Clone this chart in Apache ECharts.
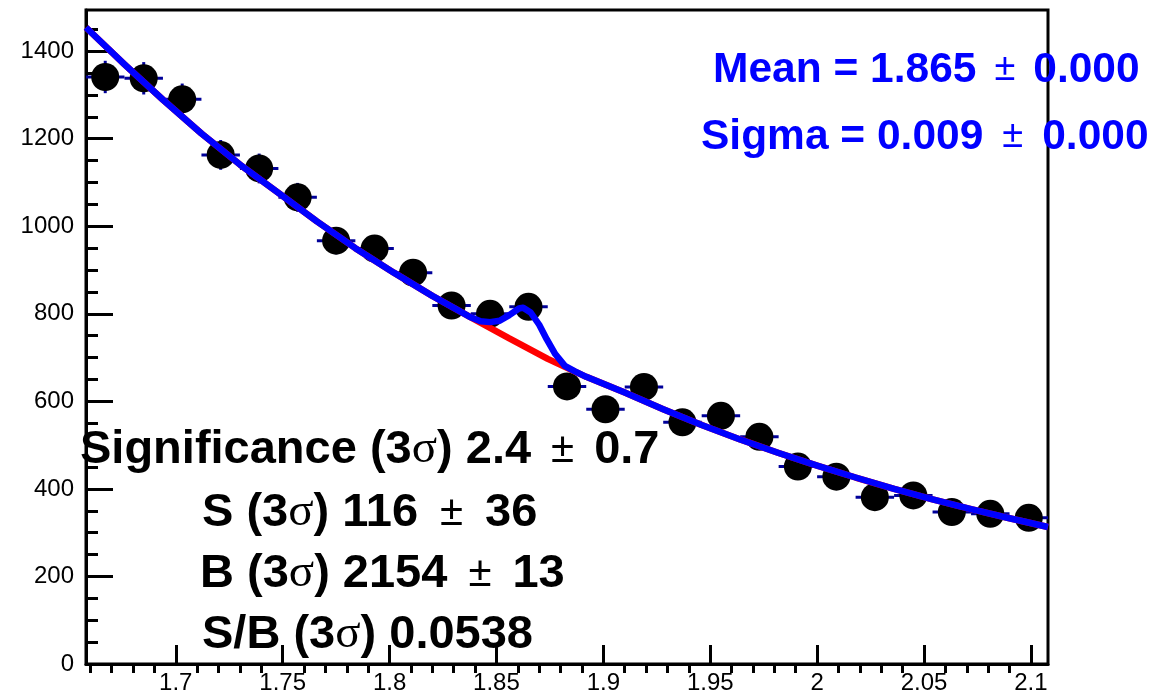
<!DOCTYPE html>
<html>
<head>
<meta charset="utf-8">
<script src="https://cdn.jsdelivr.net/npm/echarts@6/dist/echarts.min.js"></script>
<style>
html,body{margin:0;padding:0;background:#fff;}
#chart{width:1159px;height:695px;}
</style>
</head>
<body>
<div id="chart"></div>
<script>
// ---- data ----
const binCenters = [1.667,1.685,1.703,1.721,1.739,1.757,1.775,1.793,1.811,1.829,1.847,1.865,1.883,1.901,1.919,1.937,1.955,1.973,1.991,2.009,2.027,2.045,2.063,2.081,2.099];
const counts = [1341,1338,1290,1163,1132,1066,967,949,894,819,800,816,634,582,633,552,567,519,451,428,381,385,347,343,334];
const countErr = [37,37,36,34,34,33,31,31,30,29,28,29,25,24,25,23,24,23,21,21,20,20,19,19,18];
const binHalfWidth = 0.009;

// background fit curve (red) samples
const bgX = [1.658,1.676,1.694,1.712,1.730,1.748,1.766,1.784,1.802,1.820,1.838,1.856,1.874,1.892,1.910,1.928,1.946,1.964,1.982,2.000,2.018,2.036,2.054,2.072,2.090,2.108];
const bgY = [1454,1370,1289,1212,1141,1076,1011,950,894,841,792,744,697,656,620,582,546,513,482,453,426,400,376,354,333,313];

// total fit curve (blue) samples in the signal region
const peakX = [1.8425,1.847,1.8515,1.856,1.8605,1.8625,1.866,1.870,1.8735,1.8775,1.882,1.8865];
const peakY = [783,781,784,797,812,814,803,775,742,708,681,669];

// axis tick values
const xMajorTicks = [1.7,1.75,1.8,1.85,1.9,1.95,2.0,2.05,2.1];
const xMinorTicks = [1.66,1.67,1.68,1.69,1.71,1.72,1.73,1.74,1.76,1.77,1.78,1.79,1.81,1.82,1.83,1.84,1.86,1.87,1.88,1.89,1.91,1.92,1.93,1.94,1.96,1.97,1.98,1.99,2.01,2.02,2.03,2.04,2.06,2.07,2.08,2.09];
const yMajorTicks = [0,200,400,600,800,1000,1200,1400];
const yMinorTicks = [50,100,150,250,300,350,450,500,550,650,700,750,850,900,950,1050,1100,1150,1250,1300,1350,1450];

// fit result texts
const meanVal = '1.865', meanErr = '0.000';
const sigmaVal = '0.009', sigmaErr = '0.000';
const signif = ['2.4','0.7'];
const sigS = ['116','36'];
const bkgB = ['2154','13'];
const sOverB = '0.0538';

const xMin = 1.658, xMax = 2.108, yMin = 0, yMax = 1494;

// ---- build series data ----
const pts = binCenters.map((x,i)=>[x, counts[i], countErr[i]]);
const bgData = bgX.map((x,i)=>[x,bgY[i]]);
const totalData = [];
bgX.forEach((x,i)=>{ if (x < peakX[0]) totalData.push([x,bgY[i]]); });
peakX.forEach((x,i)=>totalData.push([x,peakY[i]]));
bgX.forEach((x,i)=>{ if (x > peakX[peakX.length-1]) totalData.push([x,bgY[i]]); });

const chart = echarts.init(document.getElementById('chart'), null, {renderer:'canvas'});
const FONT = 'Liberation Sans, Arial, Helvetica, sans-serif';
const navy = '#000099';
const fmt = v => String(Math.round(v*1000)/1000);

const option = {
  animation:false,
  backgroundColor:'#fff',
  grid:{left:86, right:111, top:10, bottom:28, show:true, borderColor:'#000', borderWidth:3, backgroundColor:'transparent'},
  xAxis:[
    {type:'value', min:xMin, max:xMax, splitLine:{show:false},
      axisLine:{show:true, lineStyle:{color:'#000', width:3}},
      axisTick:{show:true, inside:true, length:19, customValues:xMajorTicks, lineStyle:{color:'#000', width:3}},
      axisLabel:{show:true, customValues:xMajorTicks, formatter:fmt, color:'#000', fontSize:24, fontFamily:FONT, margin:7}
    },
    {type:'value', min:xMin, max:xMax, splitLine:{show:false},
      axisLine:{show:false},
      axisTick:{show:true, inside:true, length:9, customValues:xMinorTicks, lineStyle:{color:'#000', width:3}},
      axisLabel:{show:false}
    }
  ],
  yAxis:[
    {type:'value', min:yMin, max:yMax, position:'left', splitLine:{show:false},
      axisLine:{show:true, lineStyle:{color:'#000', width:3}},
      axisTick:{show:true, inside:true, length:27, customValues:yMajorTicks, lineStyle:{color:'#000', width:3}},
      axisLabel:{show:true, customValues:yMajorTicks, formatter:fmt, color:'#000', fontSize:24, fontFamily:FONT, margin:12}
    },
    {type:'value', min:yMin, max:yMax, position:'left', splitLine:{show:false},
      axisLine:{show:false},
      axisTick:{show:true, inside:true, length:12, customValues:yMinorTicks, lineStyle:{color:'#000', width:3}},
      axisLabel:{show:false}
    }
  ],
  series:[
    {
      type:'custom', name:'errors', xAxisIndex:0, yAxisIndex:0,
      data: pts, z:2,
      renderItem:function(params, api){
        const x = api.value(0), y = api.value(1), e = api.value(2);
        const l = api.coord([x-binHalfWidth, y]);
        const r = api.coord([x+binHalfWidth, y]);
        const t = api.coord([x, y+e]);
        const b = api.coord([x, y-e]);
        const st = {stroke:navy, lineWidth:3};
        return {type:'group', children:[
          {type:'line', shape:{x1:l[0],y1:l[1],x2:r[0],y2:r[1]}, style:st},
          {type:'line', shape:{x1:t[0],y1:t[1],x2:b[0],y2:b[1]}, style:st}
        ]};
      }
    },
    {
      type:'scatter', name:'data', xAxisIndex:0, yAxisIndex:0, z:3,
      data: pts.map(p=>[p[0],p[1]]),
      symbol:'circle', symbolSize:28,
      itemStyle:{color:'#000', opacity:1}
    },
    {
      type:'line', name:'background', xAxisIndex:0, yAxisIndex:0, z:4,
      data: bgData, showSymbol:false, symbol:'none',
      lineStyle:{color:'#ff0000', width:6.5}
    },
    {
      type:'line', name:'total', xAxisIndex:0, yAxisIndex:0, z:5,
      data: totalData, showSymbol:false, symbol:'none',
      lineStyle:{color:'#0000ff', width:6.5, join:'round'}
    }
  ],
  graphic:[]
};

function richLine(x, y, parts, size, pmSize, pmPad, color){
  return {
    type:'text', x:x, y:y, z:100,
    style:{
      text: parts,
      verticalAlign:'middle', align:'left',
      rich:{
        b:{fontSize:size, fontWeight:'bold', fontFamily:FONT, fill:color},
        s:{fontSize:size, fontFamily:'Liberation Serif, DejaVu Serif, serif', fill:color},
        pm:{fontSize:pmSize, fontFamily:FONT, fill:color, padding:[0,pmPad,0,pmPad]}
      }
    }
  };
}

const blue = '#0000ff';
option.graphic.push(richLine(713, 70, '{b|Mean = '+meanVal+'}{pm|±}{b|'+meanErr+'}', 42.5, 38, 18, blue));
option.graphic.push(richLine(701, 137, '{b|Sigma = '+sigmaVal+'}{pm|±}{b|'+sigmaErr+'}', 42.5, 38, 19, blue));
option.graphic.push(richLine(80, 450, '{b|Significance (3}{s|σ}{b|) '+signif[0]+'}{pm|±}{b|'+signif[1]+'}', 47, 42, 20, '#000'));
option.graphic.push(richLine(202, 513, '{b|S (3}{s|σ}{b|) '+sigS[0]+'}{pm|±}{b|'+sigS[1]+'}', 47, 42, 22, '#000'));
option.graphic.push(richLine(200, 574, '{b|B (3}{s|σ}{b|) '+bkgB[0]+'}{pm|±}{b|'+bkgB[1]+'}', 47, 42, 21, '#000'));
option.graphic.push(richLine(202, 635, '{b|S/B (3}{s|σ}{b|) '+sOverB+'}', 47, 42, 20, '#000'));

chart.setOption(option);
</script>
</body>
</html>
